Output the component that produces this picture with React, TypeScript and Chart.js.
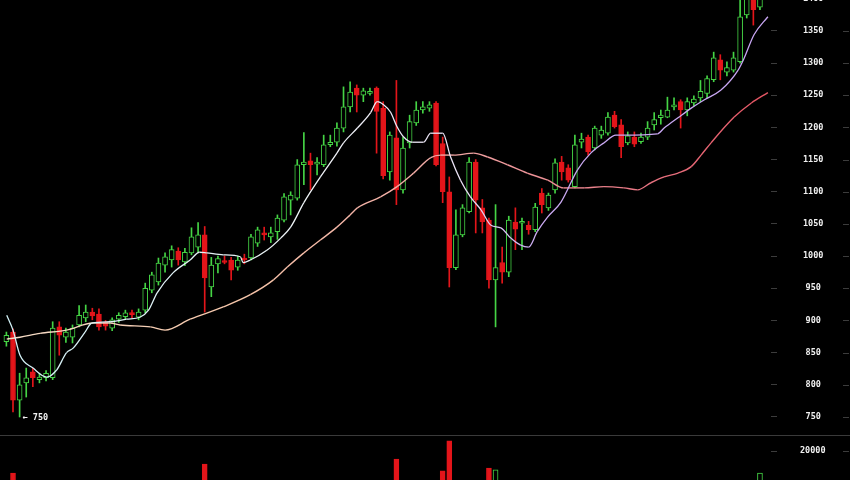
import React, { useEffect, useRef } from "react";
import { Chart, registerables } from "chart.js";

Chart.register(...registerables);

// ---- data ----
const OPEN = [
  867, 882, 776, 803, 820, 808, 811, 811, 890, 874,
  874, 893, 904, 913, 910, 897, 888, 902, 906, 912,
  905, 916, 947, 960, 986, 994, 1008, 991, 1005, 1014,
  1033, 952, 988, 991, 994, 983, 997, 997, 1020, 1036,
  1030, 1038, 1056, 1087, 1090, 1142, 1148, 1143, 1142, 1173,
  1177, 1199, 1232, 1261, 1250, 1253, 1261, 1230, 1131, 1184,
  1103, 1176, 1207, 1227, 1230, 1238, 1175, 1100, 982, 1033,
  1069, 1146, 1075, 1056, 963, 990, 975, 1053, 1051, 1048,
  1041, 1098, 1075, 1103, 1146, 1137, 1108, 1177, 1185, 1168,
  1188, 1191, 1219, 1204, 1176, 1185, 1178, 1185, 1204, 1215,
  1216, 1232, 1240, 1227, 1238, 1246, 1253, 1274, 1305, 1286,
  1289, 1302, 1375, 1410, 1387,
];
const HIGH = [
  882, 887, 818, 826, 826, 818, 822, 898, 898, 888,
  893, 923, 924, 919, 918, 900, 904, 912, 916, 916,
  918, 958, 975, 997, 1005, 1016, 1013, 1012, 1044, 1052,
  1046, 998, 1000, 1000, 998, 1000, 1003, 1034, 1045, 1045,
  1045, 1064, 1097, 1100, 1150, 1192, 1160, 1153, 1188, 1188,
  1207, 1263, 1271, 1266, 1261, 1261, 1263, 1240, 1193, 1273,
  1185, 1219, 1240, 1240, 1240, 1240, 1185, 1123, 1072, 1080,
  1153, 1150, 1088, 1059, 1080, 1014, 1062, 1075, 1059, 1054,
  1082, 1105, 1098, 1151, 1155, 1142, 1188, 1191, 1188, 1202,
  1202, 1223, 1225, 1212, 1193, 1193, 1191, 1209, 1223, 1227,
  1247, 1246, 1243, 1246, 1249, 1273, 1280, 1317, 1313, 1302,
  1317, 1402, 1410, 1415, 1412,
];
const LOW = [
  860, 758, 750, 781, 797, 803, 806, 808, 846, 866,
  865, 890, 898, 901, 885, 885, 884, 897, 902, 904,
  901, 912, 943, 955, 975, 983, 986, 985, 1002, 1006,
  913, 937, 974, 988, 963, 978, 988, 994, 1015, 1025,
  1021, 1026, 1053, 1064, 1087, 1111, 1103, 1126, 1139, 1170,
  1171, 1193, 1224, 1224, 1240, 1250, 1160, 1120, 1118, 1080,
  1098, 1168, 1203, 1222, 1225, 1140, 1083, 952, 979, 1030,
  1067, 1036, 1036, 950, 890, 958, 968, 1010, 1010, 1034,
  1038, 1067, 1071, 1098, 1118, 1115, 1106, 1168, 1157, 1165,
  1183, 1188, 1199, 1153, 1173, 1170, 1175, 1181, 1196, 1205,
  1215, 1227, 1199, 1218, 1233, 1240, 1246, 1271, 1274, 1280,
  1286, 1300, 1370, 1359, 1383,
];
const CLOSE = [
  877, 776, 800, 811, 811, 812, 818, 888, 877, 882,
  888, 908, 913, 907, 890, 891, 901, 908, 912, 909,
  913, 950, 971, 989, 999, 1010, 994, 1006, 1030, 1033,
  966, 986, 996, 990, 978, 994, 994, 1030, 1041, 1033,
  1036, 1059, 1092, 1095, 1142, 1146, 1142, 1146, 1173, 1177,
  1199, 1232, 1255, 1250, 1257, 1255, 1225, 1125, 1188, 1103,
  1168, 1209, 1227, 1232, 1235, 1142, 1100, 982, 1033, 1075,
  1146, 1087, 1053, 963, 982, 975, 1056, 1042, 1053, 1041,
  1076, 1080, 1095, 1145, 1131, 1118, 1173, 1182, 1162, 1199,
  1196, 1216, 1201, 1170, 1187, 1174, 1185, 1199, 1212, 1219,
  1227, 1233, 1227, 1240, 1244, 1256, 1276, 1308, 1289, 1293,
  1308, 1372, 1405, 1383, 1405,
];
const VOLUME = [
  7200, 13900, 9800, 6400, 5100, 4300, 3900, 8600, 6200, 4100,
  4800, 6900, 5300, 3800, 5600, 4200, 3700, 4500, 3900, 3400,
  3600, 7800, 6400, 6900, 5200, 5800, 4600, 4100, 7300, 7900,
  16400, 8700, 4900, 3800, 4700, 3900, 3500, 6100, 5700, 3900,
  3600, 6200, 7400, 4500, 8900, 9600, 7100, 4200, 6800, 4400,
  6300, 9900, 8600, 7400, 4800, 3900, 8200, 11200, 9400, 17800,
  10200, 7600, 6100, 4300, 4100, 9800, 14500, 22800, 10900, 7800,
  10400, 9900, 7700, 15300, 14800, 6900, 8600, 5600, 4200, 4100,
  6700, 5200, 5400, 8300, 5900, 5100, 8800, 4500, 5300, 6200,
  4000, 6600, 5300, 7100, 4200, 3900, 3700, 5600, 5100, 4300,
  5800, 3900, 6100, 5400, 4200, 5000, 6300, 8700, 6100, 4400,
  5700, 11800, 10300, 9700, 13900,
];

const MA_SHORT_X = [
  0.05, 1, 2.06, 4.03, 6.1, 7.6, 9.1, 10.1, 11.9, 12.9, 15.7, 18.2, 20.2, 21.5,
  22.8, 25.2, 27.8, 29.2, 30.3, 32.8, 35.4, 35.8, 36.9, 39.4, 41.5, 43, 45, 47.5,
  50, 51, 53.1, 55.1, 56.1, 57.1, 58.1, 59.1, 60.1, 61.4, 63.1, 64.2, 66, 67.2,
  68.7, 70.2, 71.8, 73.3, 74.8, 76.3, 77.8, 79, 80.3, 81.9, 83.9, 86.4, 88.4, 90.4,
  92.2, 93.4, 98.5, 99.5, 101.6, 103.6, 105.6, 108.1, 110.7, 111.5, 113.1, 115.2,
];
const MA_SHORT_Y = [
  908, 885, 846, 826, 812, 823, 850, 857, 882, 896, 898, 902, 905, 916,
  943, 974, 994, 1006, 1005, 1002, 999, 990, 994, 1009, 1028, 1045, 1083, 1123,
  1160, 1176, 1199, 1223, 1240, 1235, 1224, 1201, 1185, 1177, 1177, 1191, 1191, 1154,
  1118, 1092, 1072, 1048, 1044, 1028, 1017, 1014, 1038, 1061, 1084, 1134, 1160, 1176,
  1188, 1188, 1190, 1199, 1215, 1230, 1243, 1258, 1289, 1305, 1344, 1372,
];
const MA_LONG_X = [
  0.05, 2.06, 5.1, 9.1, 13.1, 15.7, 17.2, 21.8, 24, 27.8, 32.8, 36.9, 40.4, 42.5,
  45, 47.5, 50, 52, 53.1, 56.6, 59.1, 61.6, 64.2, 65.7, 67.7, 70.7, 72.8, 75.8,
  78.8, 81.9, 84.3, 87.4, 90.4, 93.4, 95.5, 97.5, 99.5, 101.6, 103.6, 105.1, 106.6,
  110.1, 112.7, 115.2,
];
const MA_LONG_Y = [
  871, 874, 880, 885, 896, 896, 893, 890, 885, 902, 921, 940, 963, 983,
  1005, 1025, 1045, 1064, 1075, 1092, 1108, 1129, 1153, 1157, 1157, 1160, 1154, 1142,
  1129, 1118, 1106, 1106, 1108, 1106, 1103, 1114, 1123, 1129, 1139, 1157, 1176,
  1216, 1238, 1254,
];

const PRICE_TICKS = [750, 800, 850, 900, 950, 1000, 1050, 1100, 1150, 1200, 1250, 1300, 1350, 1400];
const VOLUME_TICKS = [20000];

// ---- styling ----
const UP = "#45d445";
const DOWN = "#e3151a";
const TICK_DASH = "#3c3c3c";
const AXIS_W = 79;
const X_MIN = -0.968;
const X_MAX = 115.67;
const FONT = '"DejaVu Sans Mono", monospace';

const SHORT_STOPS: [number, string][] = [
  [0, "#d2f1f6"], [45, "#eef3f6"], [68, "#ece2f6"], [80, "#c9a9f1"], [116, "#c8a6f3"],
];
const LONG_STOPS: [number, string][] = [
  [0, "#f6dcc6"], [35, "#f6c4a8"], [65, "#f2a8a6"], [95, "#e87684"], [116, "#e2505e"],
];

function hexToRgb(h: string): number[] {
  const n = parseInt(h.slice(1), 16);
  return [(n >> 16) & 255, (n >> 8) & 255, n & 255];
}
function colorAt(stops: [number, string][], x: number): string {
  if (x <= stops[0][0]) return stops[0][1];
  for (let k = 1; k < stops.length; k++) {
    if (x <= stops[k][0]) {
      const [x0, c0] = stops[k - 1];
      const [x1, c1] = stops[k];
      const t = (x - x0) / (x1 - x0);
      const a = hexToRgb(c0);
      const b = hexToRgb(c1);
      const m = a.map((v, j) => Math.round(v + (b[j] - v) * t));
      return `rgb(${m[0]},${m[1]},${m[2]})`;
    }
  }
  return stops[stops.length - 1][1];
}

const IDX = OPEN.map((_, i) => i);
const isUp = (i: number) => CLOSE[i] >= OPEN[i];

const rightDashes = {
  id: "rightDashes",
  afterDraw(chart: any) {
    const y = chart.scales.y;
    const ctx = chart.ctx;
    ctx.save();
    ctx.strokeStyle = TICK_DASH;
    ctx.lineWidth = 1;
    y.ticks.forEach((t: any) => {
      const py = Math.round(y.getPixelForValue(t.value)) + 0.5;
      ctx.beginPath();
      ctx.moveTo(843, py);
      ctx.lineTo(849, py);
      ctx.stroke();
    });
    ctx.restore();
  },
};

const lowMarker = {
  id: "lowMarker",
  afterDatasetsDraw(chart: any) {
    const minVal = Math.min(...LOW);
    const i = LOW.indexOf(minVal);
    const px = chart.scales.x.getPixelForValue(i);
    const py = chart.scales.y.getPixelForValue(minVal);
    const ctx = chart.ctx;
    ctx.save();
    ctx.fillStyle = "#f2f2f2";
    ctx.font = `bold 8.5px ${FONT}`;
    ctx.textAlign = "left";
    ctx.textBaseline = "middle";
    ctx.fillText("\u2190 " + minVal, px + 3, py + 0.5);
    ctx.restore();
  },
};

function yAxis(min: number, max: number, ticks: number[], pad: number) {
  return {
    position: "right",
    min,
    max,
    afterBuildTicks: (s: any) => {
      s.ticks = ticks.map((v) => ({ value: v }));
    },
    afterFit: (s: any) => {
      s.width = AXIS_W;
      s.paddingTop = 0;
      s.paddingBottom = 0;
    },
    grid: { drawOnChartArea: false, drawTicks: true, tickLength: 6, color: TICK_DASH, lineWidth: 1 },
    border: { display: false },
    ticks: {
      color: "#f0f0f0",
      font: { family: FONT, size: 8.5, weight: "bold" },
      padding: pad,
      crossAlign: "center",
      autoSkip: false,
      callback: (v: any) => String(v),
    },
  };
}

export default function App() {
  const priceRef = useRef<HTMLCanvasElement>(null);
  const volRef = useRef<HTMLCanvasElement>(null);

  useEffect(() => {
    const xScale = { type: "linear", min: X_MIN, max: X_MAX, offset: false, grace: 0, display: false };

    const price = new Chart(priceRef.current as HTMLCanvasElement, {
      type: "bar",
      data: {
        datasets: [
          {
            type: "bar",
            data: IDX.map((i) => ({ x: i, y: [LOW[i], HIGH[i]] })),
            backgroundColor: IDX.map((i) => (isUp(i) ? UP : DOWN)),
            borderWidth: 0,
            barThickness: 1,
            grouped: false,
            order: 3,
          } as any,
          {
            type: "bar",
            data: IDX.map((i) => ({ x: i, y: [OPEN[i], CLOSE[i]] })),
            backgroundColor: IDX.map((i) => (isUp(i) ? "#000000" : DOWN)),
            borderColor: IDX.map((i) => (isUp(i) ? UP : DOWN)),
            borderWidth: 1,
            borderSkipped: false,
            barThickness: 5,
            minBarLength: 2,
            grouped: false,
            order: 2,
          } as any,
          {
            type: "line",
            data: MA_LONG_X.map((x, k) => ({ x, y: MA_LONG_Y[k] })),
            borderWidth: 1.4,
            pointRadius: 0,
            cubicInterpolationMode: "monotone",
            segment: { borderColor: (c: any) => colorAt(LONG_STOPS, c.p0.parsed.x) },
            order: 1,
          } as any,
          {
            type: "line",
            data: MA_SHORT_X.map((x, k) => ({ x, y: MA_SHORT_Y[k] })),
            borderWidth: 1.3,
            pointRadius: 0,
            cubicInterpolationMode: "monotone",
            segment: { borderColor: (c: any) => colorAt(SHORT_STOPS, c.p0.parsed.x) },
            order: 0,
          } as any,
        ],
      },
      options: {
        animation: false,
        responsive: false,
        devicePixelRatio: 1,
        layout: { padding: 0 },
        plugins: { legend: { display: false }, tooltip: { enabled: false } },
        scales: {
          x: xScale as any,
          y: yAxis(722, 1398, PRICE_TICKS, 26) as any,
        },
      },
      plugins: [lowMarker, rightDashes],
    } as any);

    const vol = new Chart(volRef.current as HTMLCanvasElement, {
      type: "bar",
      data: {
        datasets: [
          {
            data: IDX.map((i) => ({ x: i, y: VOLUME[i] })),
            backgroundColor: IDX.map((i) => (isUp(i) ? "#000000" : DOWN)),
            borderColor: IDX.map((i) => (isUp(i) ? UP : DOWN)),
            borderWidth: 1,
            barThickness: 5,
            grouped: false,
          } as any,
        ],
      },
      options: {
        animation: false,
        responsive: false,
        devicePixelRatio: 1,
        layout: { padding: 0 },
        plugins: { legend: { display: false }, tooltip: { enabled: false } },
        scales: {
          x: xScale as any,
          y: yAxis(12000, 24140, VOLUME_TICKS, 23) as any,
        },
      },
      plugins: [rightDashes],
    } as any);

    return () => {
      price.destroy();
      vol.destroy();
    };
  }, []);

  return (
    <div
      style={{
        position: "absolute",
        left: 0,
        top: 0,
        width: 850,
        height: 480,
        background: "#000",
        overflow: "hidden",
      }}
    >
      <canvas
        ref={priceRef}
        width={850}
        height={435}
        style={{ position: "absolute", left: 0, top: 0, width: 850, height: 435 }}
      />
      <div style={{ position: "absolute", left: 0, top: 435, width: 850, height: 1, background: "#3a3a3a" }} />
      <canvas
        ref={volRef}
        width={850}
        height={44}
        style={{ position: "absolute", left: 0, top: 436, width: 850, height: 44 }}
      />
    </div>
  );
}
